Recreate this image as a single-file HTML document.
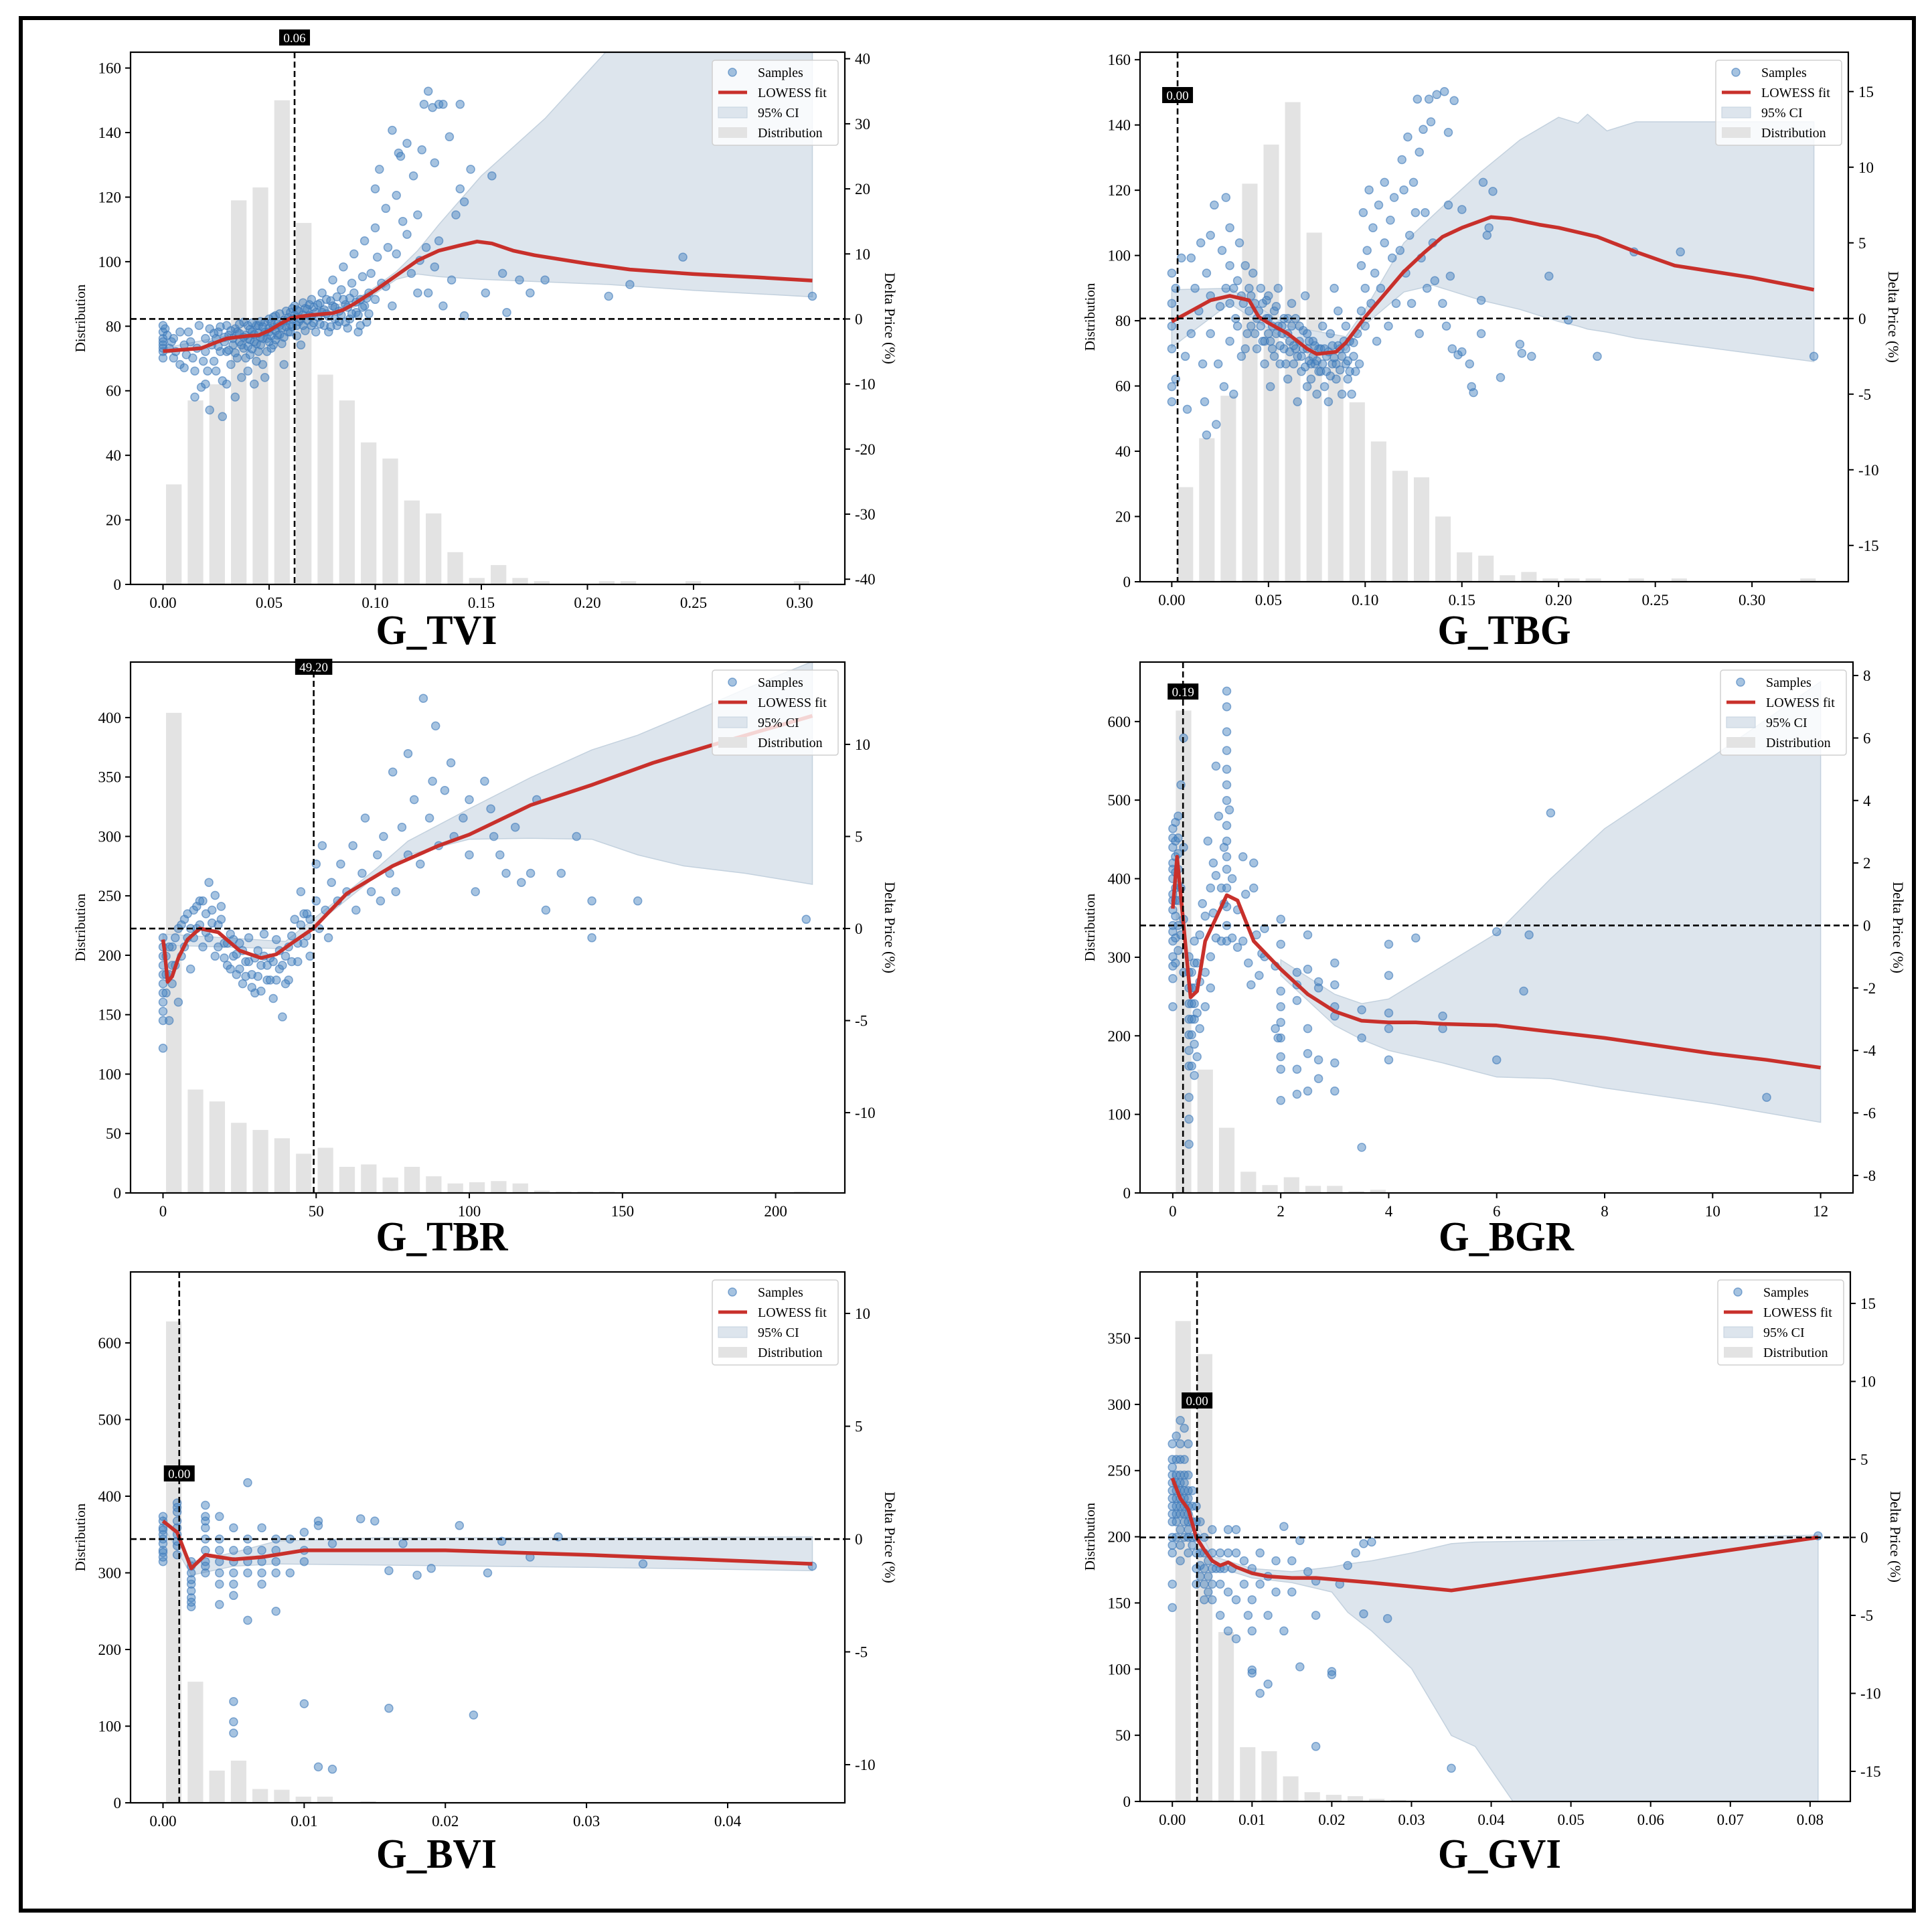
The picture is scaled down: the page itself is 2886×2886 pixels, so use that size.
<!DOCTYPE html>
<html><head><meta charset="utf-8"><title>Partial dependence panels</title>
<style>
html,body{margin:0;padding:0;background:#fff;}
svg{display:block;font-family:"Liberation Serif","Times New Roman",serif;}
</style></head>
<body>
<svg id="chart" width="2886" height="2886" viewBox="0 0 2886 2886" xmlns="http://www.w3.org/2000/svg">
<rect x="0" y="0" width="2886" height="2886" fill="#fff"/>
<rect x="31" y="27" width="2828" height="2827" fill="none" stroke="#000" stroke-width="6"/>
</svg>
<script>
// ===== G_TVI =====
const tviBins = [31,57,62,119,123,150,112,65,57,44,39,26,22,10,2,6,2,1,0,0,1,1,0,0,1,0,0,0,0,1];
const tviLowX = [0,0.01,0.018,0.025,0.03,0.04,0.045,0.05,0.055,0.06,0.065,0.07,0.08,0.085,0.09,0.1,0.11,0.12,0.13,0.14,0.148,0.155,0.165,0.175,0.2,0.22,0.25,0.28,0.306];
const tviLowY = [-4.95,-4.7,-4.5,-3.6,-3.0,-2.6,-2.5,-1.8,-0.8,0.1,0.4,0.6,0.9,1.4,2.3,4.4,6.7,9.0,10.5,11.3,11.9,11.6,10.5,9.8,8.5,7.6,6.9,6.4,5.9];
const tviCiX = [0,0.03,0.06,0.09,0.1,0.11,0.12,0.13,0.15,0.18,0.21,0.25,0.306];
const tviCiUp = [-4.5,-2.6,0.5,2.8,4.9,7.3,10.5,14.5,22,30.8,41.5,41.5,41.5];
const tviCiLo = [-5.4,-3.4,-0.3,1.8,3.9,6.1,6.9,6.5,6.1,5.7,5.3,4.4,3.4];
const tviSamples = [[0,-3],[0,-2],[0,-4],[0,-5],[0,-6],[0,-1],[0,-3.5],[0,-4.5],[0.001,-1.5],[0.002,-2.5],[0.003,-4.5],[0.004,-3.5],[0.005,-3],[0.005,-6],[0.006,-5],[0.008,-2],[0.008,-7],[0.01,-4],[0.01,-7.5],[0.011,-5.5],[0.012,-2],[0.013,-3.5],[0.014,-6],[0.015,-8],[0.015,-12],[0.016,-4.5],[0.017,-1],[0.018,-10.5],[0.019,-6.5],[0.02,-5],[0.02,-3],[0.02,-10],[0.021,-8],[0.022,-14],[0.022,-1.5],[0.023,-4],[0.024,-6.5],[0.025,-3],[0.025,-8],[0.026,-2],[0.027,-5],[0.028,-15],[0.028,-9.5],[0.029,-3.5],[0.03,-1],[0.03,-5],[0.03,-10],[0.031,-2.5],[0.032,-7],[0.033,-4],[0.034,-1.5],[0.034,-12],[0.035,-2],[0.035,-6],[0.036,-3.5],[0.037,-9],[0.038,-0.5],[0.038,-4.5],[0.039,-2.5],[0.04,-3],[0.04,-8],[0.04,-1],[0.041,-5.5],[0.042,-2],[0.043,-3.5],[0.043,-10],[0.044,-1],[0.045,-5],[0.045,-1],[0.046,-2.8],[0.047,-7],[0.048,-9],[0.048,-0.5],[0.049,-3],[0.05,-2],[0.05,0],[0.051,-4.5],[0.052,-4],[0.052,-1.2],[0.053,0.5],[0.054,-2.5],[0.055,-1],[0.056,-3.8],[0.057,-7],[0.058,-0.3],[0.059,-2],[0.06,1],[0.06,-2],[0.061,0],[0.062,2],[0.063,-1],[0.064,1.2],[0.065,0],[0.065,-4],[0.066,2.5],[0.067,-1.8],[0.068,1.5],[0.069,0.5],[0.07,3],[0.07,-1],[0.071,1.8],[0.072,-2],[0.073,0.3],[0.074,2.4],[0.075,1],[0.075,4],[0.076,-1],[0.077,0.8],[0.078,-2],[0.079,2.8],[0.08,2],[0.08,6],[0.081,0],[0.082,-1],[0.083,1.2],[0.084,4.5],[0.085,3],[0.085,8],[0.086,-0.5],[0.087,1.8],[0.088,0],[0.089,5.5],[0.09,4],[0.09,10],[0.091,1],[0.092,-2],[0.093,3],[0.094,6.5],[0.095,2],[0.095,12],[0.096,-0.5],[0.097,4],[0.098,7],[0.1,14],[0.1,20],[0.1,3],[0.101,9.5],[0.102,23],[0.103,5.5],[0.105,17],[0.105,5],[0.106,11],[0.108,29],[0.108,2],[0.11,19],[0.11,10],[0.111,25.5],[0.112,25],[0.113,15],[0.115,27],[0.115,13],[0.117,7],[0.118,22],[0.12,16],[0.12,4],[0.121,9],[0.122,26],[0.123,33],[0.124,11],[0.125,35],[0.125,4],[0.127,32.5],[0.128,24],[0.128,8],[0.13,33],[0.13,12],[0.132,2],[0.132,33],[0.135,28],[0.136,6],[0.138,16],[0.14,20],[0.14,33],[0.142,0.5],[0.142,18],[0.145,23],[0.152,4],[0.155,22],[0.16,7],[0.162,1],[0.168,6],[0.173,4],[0.18,6],[0.21,3.5],[0.22,5.3],[0.245,9.5],[0.306,3.5],
[0.024,-2.2],[0.026,-4.2],[0.027,-1.2],[0.029,-2.8],[0.031,-4.8],[0.032,-1.8],[0.033,-3],[0.034,-5.2],[0.036,-2.2],[0.036,-0.8],[0.037,-4],[0.038,-2.8],[0.039,-6],[0.04,-4.2],[0.041,-1.6],[0.041,-3.2],[0.042,-0.6],[0.042,-4.6],[0.043,-2.4],[0.044,-3.8],[0.044,-6.5],[0.045,-2.2],[0.046,-0.4],[0.046,-4],[0.047,-1.2],[0.047,-3],[0.048,-2],[0.049,-5],[0.05,-3.5],[0.05,-1.4],[0.051,-0.6],[0.051,-2.6],[0.052,0.3],[0.053,-1.8],[0.053,-3.2],[0.054,-0.8],[0.055,-2.4],[0.055,0.8],[0.056,-1.4],[0.057,-0.2],[0.057,-2.8],[0.058,1.2],[0.058,-1.2],[0.059,0.2],[0.06,-0.8],[0.061,1.6],[0.061,-1.2],[0.062,0.6],[0.063,1.4],[0.063,-2.6],[0.064,-0.4],[0.066,0.6],[0.066,-1],[0.067,1.6],[0.068,-0.2],[0.069,2.2],[0.07,0.4],[0.071,-0.6],[0.072,1],[0.073,2.2],[0.074,-0.8],[0.076,1.4],[0.077,3],[0.078,0.4],[0.079,-1.2],[0.081,1.8],[0.082,3.4],[0.083,-0.4],[0.084,0.6],[0.086,2.2],[0.087,-1.4],[0.088,3.2],[0.089,0.8],[0.091,2.6],[0.092,0.6],[0.093,-1],[0.094,1.8],[0.096,3.2],[0.097,0.8]];
const tviXTicks = [0,0.05,0.10,0.15,0.20,0.25,0.30];
const tviLTicks = [0,20,40,60,80,100,120,140,160];
const tviRTicks = [-40,-30,-20,-10,0,10,20,30,40];
const tviThreshold = 0.062;

// ===== G_TBG =====
const tbgBins = [29,44,57,122,134,147,107,75,55,43,34,32,20,9,8,2,3,1,1,1,0,1,0,1,0,0,0,0,0,1];
const tbgLowX = [0,0.01,0.02,0.03,0.04,0.045,0.05,0.06,0.07,0.075,0.085,0.09,0.1,0.11,0.12,0.13,0.14,0.15,0.165,0.175,0.19,0.2,0.22,0.24,0.26,0.3,0.332];
const tbgLowY = [-0.2,0.5,1.2,1.5,1.2,0.1,-0.3,-1.0,-2.0,-2.35,-2.2,-1.6,0.1,1.6,3.1,4.3,5.4,6.0,6.7,6.6,6.2,6.0,5.4,4.4,3.5,2.7,1.9];
const tbgCiX = [0,0.03,0.06,0.09,0.1,0.12,0.135,0.14,0.16,0.18,0.2,0.21,0.215,0.225,0.24,0.332];
const tbgCiUp = [1.9,2.0,-0.5,-1.2,0.6,5.0,6.8,7.4,9.7,11.8,13.3,12.9,13.5,12.4,13.0,13.0];
const tbgCiLo = [-1.9,1.0,-1.5,-2.1,-0.4,1.75,2.2,2.0,1.2,0.6,-0.2,-0.5,-0.7,-0.9,-1.3,-2.85];
const tbgSamples = [[0,-0.5],[0,-2],[0,-4.5],[0,-5.5],[0,1],[0,3],[0.002,-4],[0.002,2],[0.005,4],[0.007,-2.5],[0.008,-6],[0.01,-1],[0.01,4],[0.012,2],[0.014,0.5],[0.015,5],[0.016,-3],[0.017,-5.5],[0.018,-7.7],[0.018,3],[0.02,-1],[0.02,1.5],[0.02,5.5],[0.022,7.5],[0.023,-7],[0.024,-3],[0.025,0.8],[0.026,4.5],[0.027,-4.5],[0.028,2],[0.028,8],[0.03,-1.5],[0.03,3.5],[0.03,6],[0.032,-5],[0.033,0],[0.034,2.5],[0.035,5],[0.036,-2.5],[0.037,1],[0.038,3.5],[0.039,-1],[0.04,2],[0.041,-0.5],[0.042,3],[0.043,1],[0.044,-2],[0.045,0.5],[0.046,2],[0.047,-1.5],[0.048,-3],[0.049,0],[0.05,1.5],[0.05,-1],[0.051,-4.5],[0.052,-2],[0.053,0.5],[0.054,-1],[0.055,2],[0.056,-3],[0.057,-0.5],[0.058,-2],[0.06,-4],[0.06,0],[0.061,-1.5],[0.062,1],[0.063,-3],[0.064,-2],[0.065,-5.5],[0.066,-0.5],[0.067,-3.5],[0.068,-2],[0.069,1.5],[0.07,-4.5],[0.07,-1],[0.071,-2.8],[0.072,-4],[0.073,-1.5],[0.074,-3],[0.075,-5],[0.076,-2],[0.077,-3.5],[0.078,-0.5],[0.079,-4.5],[0.08,-2.5],[0.081,-5.5],[0.082,-1],[0.083,-3],[0.084,2],[0.085,-4],[0.086,0.5],[0.087,-2],[0.088,-5],[0.09,-3],[0.09,-0.5],[0.091,-4],[0.092,-1.5],[0.093,-5],[0.094,-2.5],[0.095,-3.5],[0.096,-1],[0.097,-3],[0.098,0.5],[0.098,3.5],[0.099,7],[0.1,2],[0.1,-0.5],[0.101,4.5],[0.102,8.5],[0.103,1],[0.104,6],[0.105,3],[0.106,-1.5],[0.107,7.5],[0.108,2],[0.11,5],[0.11,9],[0.112,-0.5],[0.113,6.5],[0.114,4],[0.115,8],[0.116,1],[0.118,4.5],[0.119,10.5],[0.12,8.5],[0.121,3],[0.122,12],[0.123,5.5],[0.124,1],[0.125,9],[0.126,7],[0.127,14.5],[0.128,11],[0.128,-1],[0.129,4],[0.13,12.5],[0.131,7],[0.132,2],[0.133,14.5],[0.134,13],[0.135,5],[0.136,2.5],[0.137,14.8],[0.14,1],[0.141,15],[0.142,-0.5],[0.143,12.3],[0.143,7.5],[0.144,2.8],[0.145,-2],[0.146,14.4],[0.148,-2.4],[0.15,7.2],[0.15,-2.2],[0.154,-3],[0.155,-4.5],[0.156,-4.9],[0.16,1.2],[0.16,-1],[0.161,9],[0.163,5.5],[0.164,6],[0.166,8.4],[0.17,-3.9],[0.18,-1.7],[0.181,-2.3],[0.186,-2.5],[0.195,2.8],[0.205,-0.1],[0.22,-2.5],[0.239,4.4],[0.263,4.4],[0.332,-2.5],
[0.03,1],[0.032,2],[0.034,-0.5],[0.036,1.5],[0.038,-2],[0.04,0.5],[0.041,1.5],[0.043,-1],[0.044,0],[0.046,-0.5],[0.047,1],[0.048,-1.5],[0.049,1.2],[0.05,0],[0.051,-1.5],[0.052,-0.5],[0.053,-2.5],[0.054,0.8],[0.055,-0.5],[0.056,-1.8],[0.057,-1],[0.058,0],[0.059,-3],[0.06,-1],[0.061,-2.2],[0.062,-0.5],[0.063,-1.8],[0.064,0],[0.065,-2.5],[0.066,-1.5],[0.067,-2.5],[0.068,-0.8],[0.069,-3.2],[0.07,-2],[0.071,-1.5],[0.072,-3],[0.073,-2.5],[0.074,-1.8],[0.075,-2.8],[0.076,-3.5],[0.077,-2],[0.078,-3],[0.079,-2],[0.08,-3.5],[0.081,-2.2],[0.082,-3.8],[0.083,-1.8],[0.084,-2.6],[0.085,-3],[0.086,-1.8],[0.087,-3.4],[0.088,-2.5],[0.089,-1.5],[0.09,-2],[0.091,-2.8],[0.092,-3.5],[0.094,-1.6]];
const tbgXTicks = [0,0.05,0.10,0.15,0.20,0.25,0.30];
const tbgLTicks = [0,20,40,60,80,100,120,140,160];
const tbgRTicks = [-15,-10,-5,0,5,10,15];
const tbgThreshold = 0.003;

// ===== G_TBR =====
const tbrBins = [404,87,77,59,53,46,33,38,22,24,13,22,14,8,9,10,8,2,1,1,1,0,0,0,0,0,0,0,0,1];
const tbrLowX = [0,0.5,1.5,3,5,8,12,18,25,32,37,42,49,60,75,90,100,120,140,160,180,212];
const tbrLowY = [-0.6,-1.2,-2.9,-2.6,-1.6,-0.6,0,-0.2,-1.2,-1.6,-1.4,-0.8,0,1.9,3.4,4.5,5.1,6.7,7.8,9.0,10.0,11.55];
const tbrCiX = [0,40,70,80,100,120,140,155,170,190,212];
const tbrCiUp = [-0.3,-0.7,3.3,4.75,6.5,8.2,9.7,10.5,11.55,13,14.5];
const tbrCiLo = [-0.9,-1.1,2.9,4.0,4.85,4.9,4.85,4.0,3.4,3.0,2.4];
const tbrSamples = [[0,-0.5],[0,-1],[0,-2],[0,-3],[0,-3.5],[0,-4.5],[0,-5],[0,-6.5],[0,-1.5],[0,-2.5],[0,-4],[1,-1.5],[1,-2.5],[1,-3.5],[2,-2.5],[2,-5],[3,-1],[3,-3],[4,-2],[5,-4],[5,0],[6,-1.5],[7,0.5],[8,-0.5],[9,-2.2],[10,1],[10,-0.5],[11,0],[12,1.5],[13,-1],[14,0.8],[15,2.5],[15,-0.5],[16,1],[17,-1.5],[18,0.2],[19,1.2],[20,-0.8],[21,-2],[22,-0.3],[23,-1.5],[24,-2.5],[25,-0.8],[26,-3],[27,-1.8],[28,-0.5],[29,-2.5],[30,-3.5],[31,-1.2],[32,-2],[33,-0.3],[34,-2.8],[35,-1.6],[36,-3.8],[37,-0.6],[38,-2.2],[39,-4.8],[40,-1.5],[41,-2.8],[42,-0.4],[43,0.5],[44,-1.8],[45,2],[46,-0.8],[47,0.8],[48,-1.5],[50,1.5],[50,3.5],[51,0],[52,4.5],[53,1],[54,-0.5],[55,2.5],[57,1.5],[58,3.5],[60,2],[62,4.5],[63,1],[65,3],[66,6],[68,2],[70,4],[71,1.5],[72,5],[74,3],[75,8.5],[76,2],[78,5.5],[80,4],[80,9.5],[82,7],[84,3.5],[85,12.5],[87,6],[88,8],[89,11],[90,4.5],[92,7.5],[94,9],[95,5],[98,6],[100,7],[100,4],[102,2],[105,8],[107,6.5],[108,5],[110,4],[112,3],[115,5.5],[117,2.5],[120,3],[122,7],[125,1],[130,3],[135,5],[140,1.5],[140,-0.5],[155,1.5],[210,0.5],
[2,-1],[3,-2],[4,-0.5],[6,0.2],[7,-1],[8,0.8],[9,0],[11,1.2],[12,0.2],[13,1.5],[14,-0.2],[16,0.3],[17,1.8],[18,-1],[19,0.5],[20,-1.6],[21,-0.8],[22,-2.2],[23,-0.6],[24,-1.4],[25,-2.2],[26,-1.2],[27,-2.6],[28,-1.8],[29,-3.2],[30,-1.6],[31,-2.6],[32,-3.4],[33,-1.5],[34,-2],[35,-2.8],[36,-1.8],[37,-2.8],[38,-1.2],[39,-2],[40,-3],[41,-1],[42,-1.8],[44,-0.8],[45,0.2],[46,0.8],[47,-0.4],[48,0.5]];
const tbrXTicks = [0,50,100,150,200];
const tbrLTicks = [0,50,100,150,200,250,300,350,400];
const tbrRTicks = [-10,-5,0,5,10];
const tbrThreshold = 49.2;

// ===== G_BGR =====
const bgrBins = [614,157,83,27,10,20,9,9,2,4,0,0,0,0,0,0,0,0,0,0,0,0,0,0,0,0,0,0,0,0];
const bgrLowX = [0,0.08,0.3,0.33,0.45,0.6,1.0,1.2,1.5,2,2.5,3,3.5,4,4.5,5,6,7,8,9,10,11,12];
const bgrLowY = [0.54,2.2,-1.8,-2.3,-2.1,-0.5,0.97,0.8,-0.5,-1.4,-2.2,-2.75,-3.05,-3.1,-3.1,-3.15,-3.2,-3.4,-3.6,-3.85,-4.1,-4.3,-4.55];
const bgrCiX = [2,3,3.5,4,5,6,7,8,10,12];
const bgrCiUp = [-1.1,-2.2,-2.5,-2.35,-1.3,-0.25,1.5,3.1,5.4,7.8];
const bgrCiLo = [-1.6,-3.2,-3.65,-4.0,-4.4,-4.85,-4.9,-5.2,-5.7,-6.3];
const bgrSamples = [[0,-1.7],[0,-1],[0,-0.5],[0,0],[0,0.5],[0,1],[0,1.5],[0,2],[0,2.5],[0,3.1],[0,-2.6],[0,-1.3],[0,-0.2],[0,0.8],[0,1.8],[0,2.8],[0.05,-1.2],[0.05,0.3],[0.05,1.2],[0.05,2.2],[0.05,3.3],[0.05,-0.4],[0.05,0.8],[0.05,1.7],[0.05,2.7],[0.1,-0.8],[0.1,0.8],[0.1,1.8],[0.1,2.8],[0.1,3.5],[0.1,0],[0.1,1.3],[0.1,2.3],[0.15,4.5],[0.15,-0.3],[0.15,1.2],[0.2,6],[0.2,-1.5],[0.2,2.5],[0.2,0.2],[0.3,-1],[0.3,-2],[0.3,-3],[0.3,-4],[0.3,-5.5],[0.3,-6.2],[0.3,-7],[0.3,-1.5],[0.3,-2.5],[0.3,-3.5],[0.3,-4.5],[0.35,-1.5],[0.35,-2.5],[0.35,-3.5],[0.35,-4.5],[0.35,-2],[0.35,-3],[0.4,-0.5],[0.4,-2],[0.4,-3],[0.4,-4.8],[0.4,-1.2],[0.4,-2.5],[0.4,-3.8],[0.45,-1.2],[0.45,-2.8],[0.45,-4.2],[0.5,-0.3],[0.5,-1.8],[0.5,-3.3],[0.55,0.7],[0.6,-1.5],[0.6,-2.6],[0.6,0.3],[0.65,2.7],[0.7,1.2],[0.7,-1],[0.7,-2],[0.75,2],[0.75,0.4],[0.8,1.6],[0.8,-0.4],[0.8,5.1],[0.85,3.5],[0.9,1.2],[0.9,-0.5],[0.95,2.5],[0.95,0.7],[1,7.5],[1,7],[1,6.2],[1,5.6],[1,5],[1,4.5],[1,4],[1,3.2],[1,2.7],[1,2.2],[1,1.8],[1,1.2],[1,0.6],[1,0],[1,-0.5],[1.05,3.7],[1.1,1.5],[1.1,-0.4],[1.2,0.5],[1.2,-0.7],[1.3,2.2],[1.3,-0.5],[1.35,1],[1.4,-1.2],[1.45,-1.9],[1.5,2],[1.5,1.2],[1.55,-0.3],[1.6,-1.6],[1.65,-0.9],[1.7,-1],[1.7,-0.1],[1.9,-1.3],[2,0.2],[2,-0.6],[2,-2.1],[2,-2.6],[2,-3.1],[2,-3.6],[2,-4.2],[2,-4.6],[2,-5.6],[1.9,-3.3],[1.95,-3.6],[2.3,-1.5],[2.3,-1.9],[2.3,-2.4],[2.3,-4.6],[2.3,-5.4],[2.5,-0.3],[2.5,-1.4],[2.5,-3.3],[2.5,-4.1],[2.5,-5.3],[2.7,-1.8],[2.7,-2],[2.7,-4.3],[2.7,-4.9],[3,-1.2],[3,-1.9],[3,-2.6],[3,-2.9],[3,-4.4],[3,-5.3],[3.5,-2.7],[3.5,-3.6],[3.5,-7.1],[4,-0.6],[4,-1.6],[4,-2.8],[4,-3.3],[4,-4.3],[4.5,-0.4],[5,-2.9],[5,-3.3],[6,-0.2],[6,-4.3],[6.5,-2.1],[6.6,-0.3],[7,3.6],[11,-5.5]];
const bgrXTicks = [0,2,4,6,8,10,12];
const bgrLTicks = [0,100,200,300,400,500,600];
const bgrRTicks = [-8,-6,-4,-2,0,2,4,6,8];
const bgrThreshold = 0.19;

// ===== G_BVI =====
const bviBins = [628,158,42,55,18,17,8,8,0,2,0,0,0,0,0,0,0,0,0,0,0,0,0,0,0,0,0,0,0,0];
const bviLowX = [0,0.001,0.002,0.003,0.005,0.007,0.01,0.02,0.03,0.04,0.046];
const bviLowY = [0.8,0.3,-1.3,-0.7,-0.9,-0.8,-0.5,-0.5,-0.7,-0.95,-1.1];
const bviCiX = [0,0.002,0.005,0.008,0.015,0.03,0.046];
const bviCiUp = [1.0,-1.0,-0.6,-0.1,0.05,0.05,0.1];
const bviCiLo = [0.6,-1.6,-1.2,-1.1,-1.15,-1.25,-1.4];
const bviSamples = [[0,0.5],[0,1],[0,0],[0,-0.5],[0,-1],[0,0.2],[0,-0.8],[0,0.8],[0,-0.2],[0,0.4],[0,-0.6],[0.001,0.8],[0.001,-0.3],[0.001,1.6],[0.001,0.2],[0.001,-0.7],[0.001,1.2],[0.001,0.5],[0.001,-0.1],[0.001,1.4],[0.002,-1],[0.002,-2],[0.002,-3],[0.002,-2.6],[0.002,-1.5],[0.002,-2.3],[0.002,-1.2],[0.002,-1.8],[0.002,-2.8],[0.003,1.5],[0.003,0.5],[0.003,-0.5],[0.003,-1.5],[0.003,1],[0.003,-1],[0.003,0],[0.003,-1.2],[0.003,0.8],[0.004,0],[0.004,-1],[0.004,-2],[0.004,-2.9],[0.004,1],[0.004,-0.5],[0.004,-1.5],[0.005,0.5],[0.005,-0.5],[0.005,-1.5],[0.005,-2.5],[0.005,-2],[0.005,-1],[0.005,-7.2],[0.005,-8.1],[0.005,-8.6],[0.006,2.5],[0.006,0],[0.006,-1],[0.006,-1.5],[0.006,-3.6],[0.006,-0.5],[0.007,0.5],[0.007,-0.5],[0.007,-1.5],[0.007,-2],[0.007,-1],[0.008,0],[0.008,-1],[0.008,-3.2],[0.008,-1.5],[0.008,-0.5],[0.009,0],[0.009,-1.5],[0.01,0.3],[0.01,-1],[0.01,-0.5],[0.01,-7.3],[0.011,0.8],[0.011,0.6],[0.011,-10.1],[0.012,-0.2],[0.012,-10.2],[0.014,0.9],[0.015,0.8],[0.016,-1.4],[0.016,-7.5],[0.017,-0.2],[0.018,-1.6],[0.019,-1.3],[0.021,0.6],[0.022,-7.8],[0.023,-1.5],[0.024,-0.1],[0.026,-0.8],[0.028,0.1],[0.034,-1.1],[0.046,-1.2]];
const bviXTicks = [0,0.01,0.02,0.03,0.04];
const bviLTicks = [0,100,200,300,400,500,600];
const bviRTicks = [-10,-5,0,5,10];
const bviThreshold = 0.00115;

// ===== G_GVI =====
const gviBins = [363,338,128,41,38,19,7,5,4,2,1,0,0,0,0,0,0,0,0,0,0,0,0,0,0,0,0,0,0,0];
const gviLowX = [0,0.001,0.002,0.003,0.004,0.005,0.006,0.007,0.008,0.01,0.012,0.015,0.018,0.025,0.035,0.081];
const gviLowY = [3.8,2.5,1.8,0,-0.8,-1.5,-1.8,-1.6,-1.9,-2.3,-2.5,-2.6,-2.6,-2.9,-3.4,0];
const gviCiX = [0,0.005,0.01,0.015,0.02,0.022,0.025,0.03,0.035,0.038,0.0435,0.05,0.081];
const gviCiUp = [4.2,-1.2,-2.0,-2.2,-1.9,-1.7,-1.5,-1.0,-0.4,-0.3,-0.25,-0.2,0.15];
const gviCiLo = [3.4,-1.8,-2.6,-2.9,-3.5,-4.8,-6.0,-8.4,-12.7,-13.4,-17.5,-17.5,-17.5];
const gviSamples = [[0,0],[0,1],[0,2],[0,3],[0,4],[0,5],[0,6],[0,-0.5],[0,-1],[0,-3],[0,-4.5],[0,1.5],[0,2.5],[0,3.5],[0,4.5],[0.0005,1],[0.0005,2],[0.0005,3],[0.0005,4],[0.0005,5],[0.0005,6.5],[0.0005,0],[0.0005,1.5],[0.0005,2.5],[0.0005,3.5],[0.001,0.5],[0.001,2],[0.001,3],[0.001,4],[0.001,5],[0.001,6],[0.001,7.5],[0.001,-0.5],[0.001,-1.5],[0.001,1.5],[0.001,2.5],[0.001,3.5],[0.0015,1],[0.0015,2],[0.0015,3],[0.0015,4],[0.0015,5],[0.0015,7],[0.0015,0],[0.0015,1.5],[0.0015,2.5],[0.0015,3.5],[0.002,0],[0.002,1],[0.002,2],[0.002,3],[0.002,4],[0.002,6],[0.002,-1],[0.002,0.5],[0.002,1.5],[0.002,2.5],[0.0025,1],[0.0025,2],[0.0025,3],[0.0025,-0.5],[0.0025,0],[0.003,-2],[0.003,-1],[0.003,0],[0.003,1],[0.003,2],[0.003,-3],[0.0035,-1],[0.0035,-2.5],[0.0035,1],[0.0035,-1.8],[0.004,-2],[0.004,-3],[0.004,-4],[0.004,0],[0.004,-1],[0.0045,-1.5],[0.0045,-3.5],[0.0045,-2.5],[0.005,-3],[0.005,-1],[0.005,-2],[0.005,0.5],[0.005,-4],[0.0055,-2],[0.006,-5],[0.006,-3],[0.006,-1],[0.006,-2],[0.0065,-2],[0.007,-6],[0.007,-3.5],[0.007,-1],[0.007,0.5],[0.0075,-2],[0.008,-6.5],[0.008,-4],[0.008,-1],[0.008,0.5],[0.009,-3],[0.009,-1.5],[0.0095,-5],[0.01,-2],[0.01,-4],[0.01,-6],[0.01,-8.5],[0.01,-8.7],[0.011,-1],[0.011,-3],[0.011,-10],[0.012,-2.5],[0.012,-9.4],[0.012,-5],[0.013,-3.5],[0.013,-1.5],[0.014,-6],[0.014,0.7],[0.015,-1.5],[0.015,-3.5],[0.016,-8.3],[0.016,-0.2],[0.017,-2.2],[0.018,-5],[0.018,-2.8],[0.018,-13.4],[0.02,-8.6],[0.02,-8.8],[0.021,-3],[0.022,-1.8],[0.023,-1],[0.024,-4.9],[0.024,-0.4],[0.025,-0.3],[0.027,-5.2],[0.035,-14.8],[0.081,0.1]];
const gviXTicks = [0,0.01,0.02,0.03,0.04,0.05,0.06,0.07,0.08];
const gviLTicks = [0,50,100,150,200,250,300,350];
const gviRTicks = [-15,-10,-5,0,5,10,15];
const gviThreshold = 0.0031;

const NS = 'http://www.w3.org/2000/svg';
const svg = document.getElementById('chart');
function mk(tag, attrs, parent) {
  const e = document.createElementNS(NS, tag);
  for (const k in attrs) e.setAttribute(k, attrs[k]);
  parent.appendChild(e);
  return e;
}

const panels = [
  {key:'tvi', title:'G_TVI', L:195, R:1262, T:78, B:873, xmin:-0.0153, xmax:0.3213, lmax:164.9, rmin:-40.8, rmax:41.0, binStart:0, binW:0.0102, xdec:2, titleX:652, titleY:962, titleW:181, labY:56,
   bins:tviBins, lowX:tviLowX, lowY:tviLowY, ciX:tviCiX, ciUp:tviCiUp, ciLo:tviCiLo, samples:tviSamples, xt:tviXTicks, lt:tviLTicks, rt:tviRTicks, thr:tviThreshold, thrLabel:'0.06'},
  {key:'tbg', title:'G_TBG', L:1703, R:2761, T:78, B:869, xmin:-0.0164, xmax:0.3498, lmax:162.3, rmin:-17.4, rmax:17.6, binStart:0.0015, binW:0.0111, xdec:2, titleX:2247, titleY:962, titleW:199, labY:142,
   bins:tbgBins, lowX:tbgLowX, lowY:tbgLowY, ciX:tbgCiX, ciUp:tbgCiUp, ciLo:tbgCiLo, samples:tbgSamples, xt:tbgXTicks, lt:tbgLTicks, rt:tbgRTicks, thr:tbgThreshold, thrLabel:'0.00'},
  {key:'tbr', title:'G_TBR', L:195, R:1262, T:989, B:1782, xmin:-10.6, xmax:222.6, lmax:446.7, rmin:-14.36, rmax:14.47, binStart:0, binW:7.07, xdec:0, titleX:660, titleY:1868, titleW:197, labY:996,
   bins:tbrBins, lowX:tbrLowX, lowY:tbrLowY, ciX:tbrCiX, ciUp:tbrCiUp, ciLo:tbrCiLo, samples:tbrSamples, xt:tbrXTicks, lt:tbrLTicks, rt:tbrRTicks, thr:tbrThreshold, thrLabel:'49.20'},
  {key:'bgr', title:'G_BGR', L:1703, R:2768, T:989, B:1782, xmin:-0.606, xmax:12.6, lmax:675.7, rmin:-8.56, rmax:8.43, binStart:0, binW:0.4, xdec:0, titleX:2250, titleY:1868, titleW:202, labY:1033,
   bins:bgrBins, lowX:bgrLowX, lowY:bgrLowY, ciX:bgrCiX, ciUp:bgrCiUp, ciLo:bgrCiLo, samples:bgrSamples, xt:bgrXTicks, lt:bgrLTicks, rt:bgrRTicks, thr:bgrThreshold, thrLabel:'0.19'},
  {key:'bvi', title:'G_BVI', L:195, R:1262, T:1900, B:2693, xmin:-0.0023, xmax:0.0483, lmax:692.6, rmin:-11.69, rmax:11.84, binStart:0, binW:0.00153, xdec:2, titleX:652, titleY:2790, titleW:180, labY:2201,
   bins:bviBins, lowX:bviLowX, lowY:bviLowY, ciX:bviCiX, ciUp:bviCiUp, ciLo:bviCiLo, samples:bviSamples, xt:bviXTicks, lt:bviLTicks, rt:bviRTicks, thr:bviThreshold, thrLabel:'0.00'},
  {key:'gvi', title:'G_GVI', L:1703, R:2764, T:1900, B:2691, xmin:-0.00405, xmax:0.08505, lmax:400.1, rmin:-16.93, rmax:17.02, binStart:0, binW:0.0027, xdec:2, titleX:2240, titleY:2790, titleW:184, labY:2092,
   bins:gviBins, lowX:gviLowX, lowY:gviLowY, ciX:gviCiX, ciUp:gviCiUp, ciLo:gviCiLo, samples:gviSamples, xt:gviXTicks, lt:gviLTicks, rt:gviRTicks, thr:gviThreshold, thrLabel:'0.00'}
];

function fmtRight(v){ return v < 0 ? '-' + Math.abs(v) : String(v); }

panels.forEach(function(p){
  const sx = function(v){ return p.L + (v - p.xmin) / (p.xmax - p.xmin) * (p.R - p.L); };
  const sl = function(v){ return p.B - v / p.lmax * (p.B - p.T); };
  const sr = function(v){ return p.B - (v - p.rmin) / (p.rmax - p.rmin) * (p.B - p.T); };

  const g = mk('g', {}, svg);
  
  

  const clipId = 'clip-' + p.key;
  const defs = mk('defs', {}, g);
  const cp = mk('clipPath', {id: clipId}, defs);
  mk('rect', {x:p.L, y:p.T, width:p.R-p.L, height:p.B-p.T}, cp);

  const plot = mk('g', {'clip-path':'url(#' + clipId + ')'}, g);
  
  

  const bw = p.binW * 0.72;
  p.bins.forEach(function(c, i){
    if (c <= 0) return;
    const cx = p.binStart + p.binW * (i + 0.5);
    const x0 = sx(cx - bw/2), x1 = sx(cx + bw/2);
    const r = mk('rect', {x:x0, y:sl(c), width:x1-x0, height:p.B - sl(c), fill:'#e3e3e3'}, plot);
    
    
  });

  let pts = [];
  p.ciX.forEach(function(x, i){ pts.push(sx(x).toFixed(1) + ',' + sr(p.ciUp[i]).toFixed(1)); });
  for (let i = p.ciX.length - 1; i >= 0; i--) pts.push(sx(p.ciX[i]).toFixed(1) + ',' + sr(p.ciLo[i]).toFixed(1));
  const ci = mk('polygon', {points: pts.join(' '), fill:'#dde5ed', stroke:'#c3d1de', 'stroke-width':1.5}, plot);
  
  

  const sg = mk('g', {}, plot);
  
  
  p.samples.forEach(function(s){
    const c = mk('circle', {cx:sx(s[0]).toFixed(1), cy:sr(s[1]).toFixed(1), r:6, fill:'rgba(70,130,190,0.48)', stroke:'rgba(60,120,185,0.6)', 'stroke-width':1.5}, sg);
    
    
  });

  const lp = p.lowX.map(function(x, i){ return sx(x).toFixed(1) + ',' + sr(p.lowY[i]).toFixed(1); }).join(' ');
  const lw = mk('polyline', {points: lp, fill:'none', stroke:'#c8302b', 'stroke-width':5.5, 'stroke-linejoin':'round'}, plot);
  
  

  const hz = mk('line', {x1:p.L, x2:p.R, y1:sr(0), y2:sr(0), stroke:'#000', 'stroke-width':2.6, 'stroke-dasharray':'9,5'}, g);
  
  
  const vt = mk('line', {x1:sx(p.thr), x2:sx(p.thr), y1:p.T, y2:p.B, stroke:'#000', 'stroke-width':2.6, 'stroke-dasharray':'9,5'}, g);
  
  

  const sp = mk('rect', {x:p.L, y:p.T, width:p.R-p.L, height:p.B-p.T, fill:'none', stroke:'#000', 'stroke-width':2.2}, g);
  
  

  p.xt.forEach(function(v){
    const x = sx(v);
    const t = mk('line', {x1:x, x2:x, y1:p.B, y2:p.B+8, stroke:'#000', 'stroke-width':2}, g);
    
    
    const tx = mk('text', {x:x, y:p.B+35, 'font-size':23, 'text-anchor':'middle', fill:'#000'}, g);
    tx.textContent = v.toFixed(p.xdec);
    
    
  });
  p.lt.forEach(function(v){
    const y = sl(v);
    const t = mk('line', {x1:p.L-8, x2:p.L, y1:y, y2:y, stroke:'#000', 'stroke-width':2}, g);
    
    
    const tx = mk('text', {x:p.L-14, y:y+8, 'font-size':23, 'text-anchor':'end', fill:'#000'}, g);
    tx.textContent = String(v);
    
    
  });
  p.rt.forEach(function(v){
    const y = sr(v);
    const t = mk('line', {x1:p.R, x2:p.R+8, y1:y, y2:y, stroke:'#000', 'stroke-width':2}, g);
    
    
    const tx = mk('text', {x:p.R+15, y:y+8, 'font-size':23, 'text-anchor':'start', fill:'#000'}, g);
    tx.textContent = fmtRight(v);
    
    
  });

  const my = (p.T + p.B) / 2;
  const yl = mk('text', {x:0, y:0, 'font-size':21, 'text-anchor':'middle', transform:'translate(' + (p.L-68) + ',' + my + ') rotate(-90)'}, g);
  yl.textContent = 'Distribution';
  
  
  const yr = mk('text', {x:0, y:0, 'font-size':22, 'text-anchor':'middle', transform:'translate(' + (p.R+60) + ',' + my + ') rotate(90)'}, g);
  yr.textContent = 'Delta Price (%)';
  
  

  const tt = mk('text', {x:p.titleX, y:p.titleY, 'font-size':62, 'font-weight':'bold', 'text-anchor':'middle', textLength:p.titleW, lengthAdjust:'spacingAndGlyphs'}, g);
  tt.textContent = p.title;
  
  

  const lx = sx(p.thr);
  const lwid = p.thrLabel.length * 9.5 + 8;
  const lb = mk('rect', {x:lx - lwid/2, y:p.labY - 12, width:lwid, height:24, fill:'#000'}, g);
  
  
  const lt = mk('text', {x:lx, y:p.labY + 7, 'font-size':19, fill:'#fff', 'text-anchor':'middle'}, g);
  lt.textContent = p.thrLabel;
  
  

  const lgx = p.R - 198, lgy = p.T + 12;
  const lg = mk('g', {}, g);
  
  
  mk('rect', {x:lgx, y:lgy, width:188, height:127, rx:4, fill:'#fff', 'fill-opacity':0.8, stroke:'#d0d0d0', 'stroke-width':1.5}, lg);
  const rows = ['Samples','LOWESS fit','95% CI','Distribution'];
  rows.forEach(function(name, i){
    const ry = lgy + 18 + i * 30;
    let m;
    if (i === 0) m = mk('circle', {cx:lgx+30, cy:ry, r:6, fill:'rgba(70,130,190,0.48)', stroke:'rgba(60,120,185,0.6)', 'stroke-width':1.5}, lg);
    else if (i === 1) m = mk('line', {x1:lgx+9, x2:lgx+52, y1:ry, y2:ry, stroke:'#c8302b', 'stroke-width':5}, lg);
    else if (i === 2) m = mk('rect', {x:lgx+9, y:ry-8, width:43, height:16, fill:'#dde5ed', stroke:'#c3d1de', 'stroke-width':1}, lg);
    else m = mk('rect', {x:lgx+9, y:ry-8, width:43, height:16, fill:'#e3e3e3'}, lg);
    
    
    const tx = mk('text', {x:lgx+68, y:ry+7, 'font-size':20, fill:'#000'}, lg);
    tx.textContent = name;
    
    
  });
});
</script>
</body></html>
